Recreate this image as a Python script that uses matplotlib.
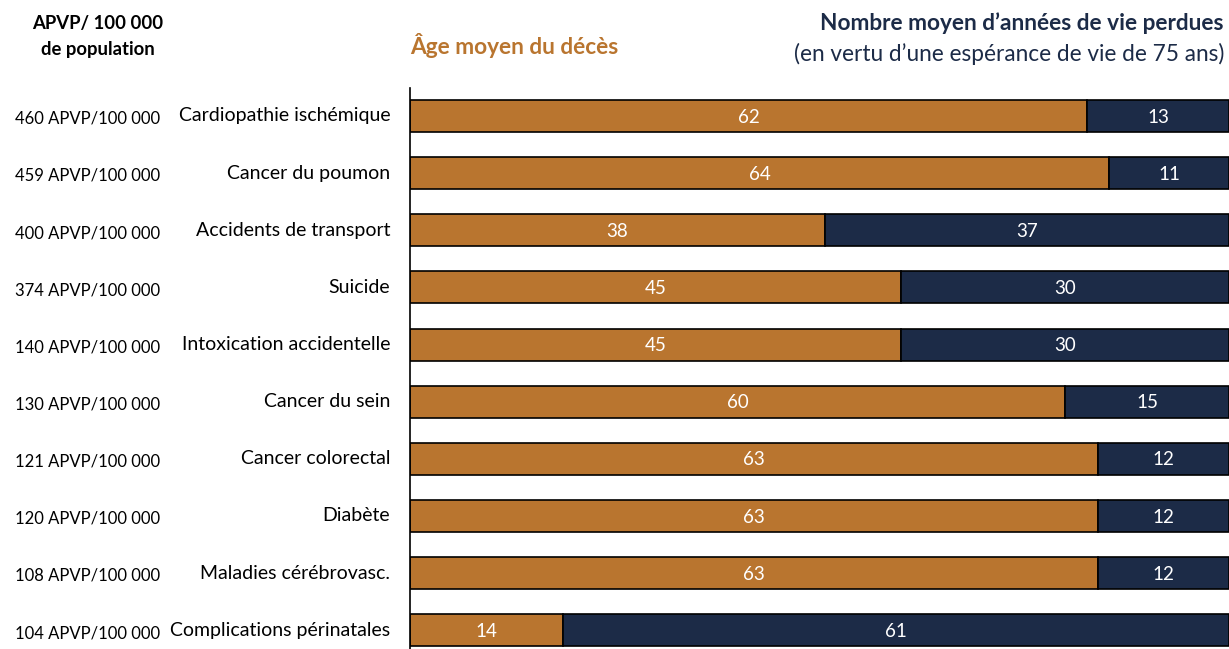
import matplotlib
matplotlib.use("Agg")
import matplotlib.pyplot as plt

causes = ["Cardiopathie ischémique", "Cancer du poumon", "Accidents de transport",
          "Suicide", "Intoxication accidentelle", "Cancer du sein",
          "Cancer colorectal", "Diabète", "Maladies cérébrovasc.",
          "Complications périnatales"]
apvp = [460, 459, 400, 374, 140, 130, 121, 120, 108, 104]
age_moyen = [62, 64, 38, 45, 45, 60, 63, 63, 63, 14]
annees_perdues = [13, 11, 37, 30, 30, 15, 12, 12, 12, 61]

ORANGE = "#B9752F"
NAVY = "#1C2B47"

plt.rcParams["font.family"] = ["Lato", "DejaVu Sans"]

fig = plt.figure(figsize=(12.29, 6.49), dpi=100)
ax = fig.add_axes([410 / 1229, 0, 819 / 1229, 561 / 649])

y = list(range(len(causes)))
ax.barh(y, age_moyen, height=0.56, color=ORANGE, edgecolor="black", linewidth=1.2)
ax.barh(y, annees_perdues, left=age_moyen, height=0.56, color=NAVY,
        edgecolor="black", linewidth=1.2)

for i in y:
    ax.text(age_moyen[i] / 2, i + 0.02, str(age_moyen[i]), ha="center", va="center",
            color="white", fontsize=13.5)
    ax.text(age_moyen[i] + annees_perdues[i] / 2, i + 0.02, str(annees_perdues[i]),
            ha="center", va="center", color="white", fontsize=13.5)
    ax.text(-0.024, i, causes[i], transform=ax.get_yaxis_transform(),
            ha="right", va="center", fontsize=14, color="black")
    ax.text(-0.394, i + 0.05, f"{apvp[i]} APVP/100 000", transform=ax.get_yaxis_transform(),
            ha="center", va="center", fontsize=12, color="black")

ax.set_xlim(0, 75)
ax.set_ylim(9.33, -0.49)
ax.set_xticks([])
ax.set_yticks([])
for s in ["top", "right", "bottom"]:
    ax.spines[s].set_visible(False)
ax.spines["left"].set_linewidth(1.2)

fig.text(98 / 1229, 1 - 23 / 649, "APVP/ 100 000", ha="center", va="center",
         fontsize=13.3, fontweight="bold")
fig.text(98 / 1229, 1 - 50 / 649, "de population", ha="center", va="center",
         fontsize=13.3, fontweight="bold")
fig.text(410 / 1229, 1 - 46 / 649, "Âge moyen du décès", ha="left", va="center",
         fontsize=16.3, fontweight="bold", color=ORANGE)
fig.text(1224 / 1229, 1 - 23 / 649, "Nombre moyen d\u2019années de vie perdues",
         ha="right", va="center", fontsize=16.3, fontweight="bold", color=NAVY)
fig.text(1224 / 1229, 1 - 54 / 649, "(en vertu d\u2019une espérance de vie de 75 ans)",
         ha="right", va="center", fontsize=16.3, color=NAVY)

fig.savefig("out.png", dpi=100)
